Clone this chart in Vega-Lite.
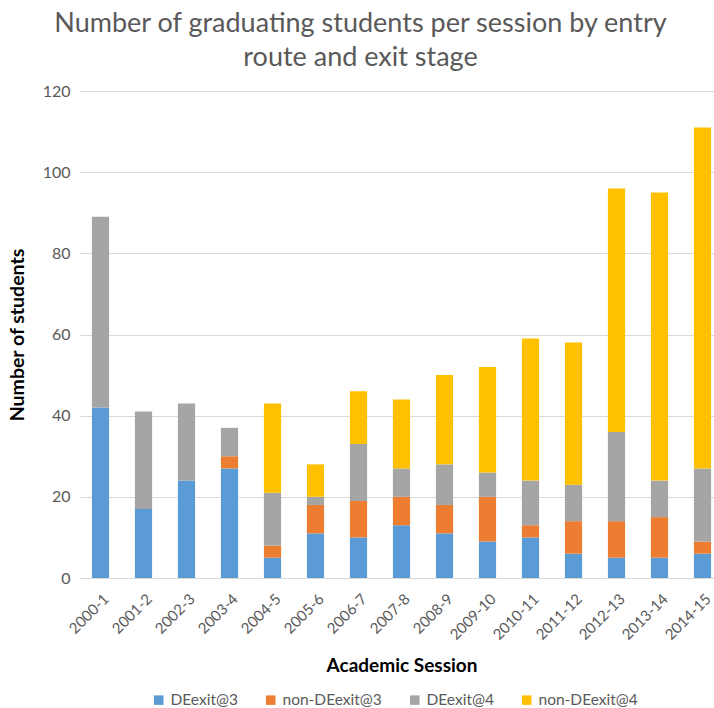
{
  "$schema": "https://vega.github.io/schema/vega-lite/v6.json",
  "width": 645,
  "height": 487,
  "autosize": {"type": "none"},
  "padding": {"left": 79, "top": 91, "right": -10, "bottom": 130},
  "background": "white",
  "title": {
    "text": ["Number of graduating students per session by entry", "route and exit stage"],
    "font": "Lato",
    "fontSize": 27,
    "fontWeight": "normal",
    "color": "#595959",
    "lineHeight": 34,
    "anchor": "middle",
    "dx": -41,
    "offset": 11
  },
  "data": {
    "values": [
      {"session": "2000-1", "route": "DEexit@3", "n": 42},
      {"session": "2000-1", "route": "non-DEexit@3", "n": 0},
      {"session": "2000-1", "route": "DEexit@4", "n": 47},
      {"session": "2000-1", "route": "non-DEexit@4", "n": 0},
      {"session": "2001-2", "route": "DEexit@3", "n": 17},
      {"session": "2001-2", "route": "non-DEexit@3", "n": 0},
      {"session": "2001-2", "route": "DEexit@4", "n": 24},
      {"session": "2001-2", "route": "non-DEexit@4", "n": 0},
      {"session": "2002-3", "route": "DEexit@3", "n": 24},
      {"session": "2002-3", "route": "non-DEexit@3", "n": 0},
      {"session": "2002-3", "route": "DEexit@4", "n": 19},
      {"session": "2002-3", "route": "non-DEexit@4", "n": 0},
      {"session": "2003-4", "route": "DEexit@3", "n": 27},
      {"session": "2003-4", "route": "non-DEexit@3", "n": 3},
      {"session": "2003-4", "route": "DEexit@4", "n": 7},
      {"session": "2003-4", "route": "non-DEexit@4", "n": 0},
      {"session": "2004-5", "route": "DEexit@3", "n": 5},
      {"session": "2004-5", "route": "non-DEexit@3", "n": 3},
      {"session": "2004-5", "route": "DEexit@4", "n": 13},
      {"session": "2004-5", "route": "non-DEexit@4", "n": 22},
      {"session": "2005-6", "route": "DEexit@3", "n": 11},
      {"session": "2005-6", "route": "non-DEexit@3", "n": 7},
      {"session": "2005-6", "route": "DEexit@4", "n": 2},
      {"session": "2005-6", "route": "non-DEexit@4", "n": 8},
      {"session": "2006-7", "route": "DEexit@3", "n": 10},
      {"session": "2006-7", "route": "non-DEexit@3", "n": 9},
      {"session": "2006-7", "route": "DEexit@4", "n": 14},
      {"session": "2006-7", "route": "non-DEexit@4", "n": 13},
      {"session": "2007-8", "route": "DEexit@3", "n": 13},
      {"session": "2007-8", "route": "non-DEexit@3", "n": 7},
      {"session": "2007-8", "route": "DEexit@4", "n": 7},
      {"session": "2007-8", "route": "non-DEexit@4", "n": 17},
      {"session": "2008-9", "route": "DEexit@3", "n": 11},
      {"session": "2008-9", "route": "non-DEexit@3", "n": 7},
      {"session": "2008-9", "route": "DEexit@4", "n": 10},
      {"session": "2008-9", "route": "non-DEexit@4", "n": 22},
      {"session": "2009-10", "route": "DEexit@3", "n": 9},
      {"session": "2009-10", "route": "non-DEexit@3", "n": 11},
      {"session": "2009-10", "route": "DEexit@4", "n": 6},
      {"session": "2009-10", "route": "non-DEexit@4", "n": 26},
      {"session": "2010-11", "route": "DEexit@3", "n": 10},
      {"session": "2010-11", "route": "non-DEexit@3", "n": 3},
      {"session": "2010-11", "route": "DEexit@4", "n": 11},
      {"session": "2010-11", "route": "non-DEexit@4", "n": 35},
      {"session": "2011-12", "route": "DEexit@3", "n": 6},
      {"session": "2011-12", "route": "non-DEexit@3", "n": 8},
      {"session": "2011-12", "route": "DEexit@4", "n": 9},
      {"session": "2011-12", "route": "non-DEexit@4", "n": 35},
      {"session": "2012-13", "route": "DEexit@3", "n": 5},
      {"session": "2012-13", "route": "non-DEexit@3", "n": 9},
      {"session": "2012-13", "route": "DEexit@4", "n": 22},
      {"session": "2012-13", "route": "non-DEexit@4", "n": 60},
      {"session": "2013-14", "route": "DEexit@3", "n": 5},
      {"session": "2013-14", "route": "non-DEexit@3", "n": 10},
      {"session": "2013-14", "route": "DEexit@4", "n": 9},
      {"session": "2013-14", "route": "non-DEexit@4", "n": 71},
      {"session": "2014-15", "route": "DEexit@3", "n": 6},
      {"session": "2014-15", "route": "non-DEexit@3", "n": 3},
      {"session": "2014-15", "route": "DEexit@4", "n": 18},
      {"session": "2014-15", "route": "non-DEexit@4", "n": 84}
    ]
  },
  "transform": [
    {"calculate": "indexof(['DEexit@3','non-DEexit@3','DEexit@4','non-DEexit@4'], datum.route)", "as": "stackOrder"}
  ],
  "mark": {"type": "bar"},
  "encoding": {
    "x": {
      "field": "session",
      "type": "nominal",
      "sort": null,
      "scale": {"paddingInner": 0.6, "paddingOuter": 0.3},
      "axis": {
        "title": "Academic Session",
        "titleFont": "Lato",
        "titleFontSize": 19,
        "titleFontWeight": "bold",
        "titleColor": "#000000",
        "titleBaseline": "middle",
        "titleY": 87,
        "labelAngle": -45,
        "labelFont": "Lato",
        "labelFontSize": 15,
        "labelColor": "#595959",
        "labelPadding": 13,
        "labelOffset": 1,
        "ticks": false,
        "domainColor": "#D9D9D9",
        "domainWidth": 1.2,
        "grid": false
      }
    },
    "y": {
      "field": "n",
      "type": "quantitative",
      "stack": "zero",
      "scale": {"domain": [0, 120], "nice": false},
      "axis": {
        "title": "Number of students",
        "titleFont": "Lato",
        "titleFontSize": 19.5,
        "titleFontWeight": "bold",
        "titleColor": "#000000",
        "titlePadding": 15,
        "values": [0, 20, 40, 60, 80, 100, 120],
        "labelFont": "Lato",
        "labelFontSize": 16,
        "labelColor": "#595959",
        "labelPadding": 9,
        "ticks": false,
        "domain": false,
        "gridColor": "#D9D9D9",
        "gridWidth": 1.2
      }
    },
    "color": {
      "field": "route",
      "type": "nominal",
      "scale": {
        "domain": ["DEexit@3", "non-DEexit@3", "DEexit@4", "non-DEexit@4"],
        "range": ["#5B9BD5", "#ED7D31", "#A5A5A5", "#FFC000"]
      },
      "legend": {
        "title": null,
        "orient": "none",
        "legendX": 72,
        "legendY": 601,
        "direction": "horizontal",
        "symbolType": "square",
        "symbolSize": 90,
        "symbolStrokeWidth": 0,
        "labelFont": "Lato",
        "labelFontSize": 15.5,
        "labelColor": "#595959",
        "labelOffset": 4,
        "columnPadding": 25
      }
    },
    "order": {"field": "stackOrder", "type": "quantitative"}
  },
  "config": {
    "view": {"stroke": null}
  }
}
